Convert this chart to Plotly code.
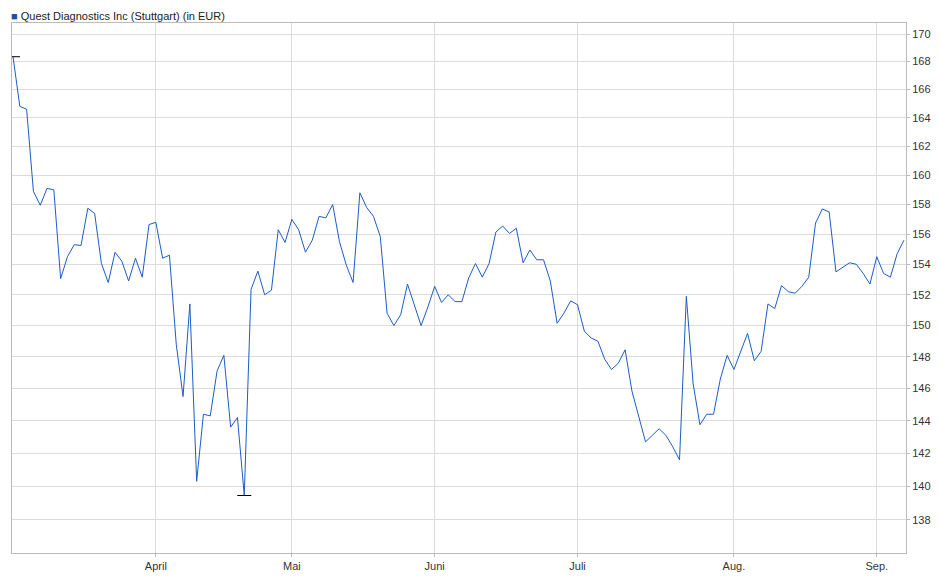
import plotly.graph_objects as go

kurse = [168.35, 164.8, 164.6, 158.9, 157.95, 159.1, 159.0, 153.05, 154.5, 155.3,
         155.25, 157.75, 157.4, 154.05, 152.8, 154.8, 154.2, 152.9, 154.4, 153.15,
         156.65, 156.8, 154.4, 154.6, 148.8, 145.5, 151.4, 140.3, 144.4, 144.3,
         147.1, 148.1, 143.6, 144.2, 139.45, 152.35, 153.55, 152.0, 152.3, 156.3,
         155.45, 157.0, 156.3, 154.8, 155.6, 157.2, 157.1, 158.0, 155.5, 153.95,
         152.8, 158.8, 157.8, 157.2, 155.85, 150.8, 150.0, 150.7, 152.7, 151.3,
         150.0, 151.2, 152.55, 151.5, 152.0, 151.55, 151.55, 153.1, 154.05, 153.15,
         154.05, 156.15, 156.55, 156.05, 156.4, 154.1, 154.95, 154.3, 154.3, 152.9,
         150.15, 150.8, 151.6, 151.35, 149.65, 149.2, 149.0, 147.85, 147.2, 147.6,
         148.45, 145.85, 144.2, 142.7, 143.1, 143.5, 143.1, 142.4, 141.6, 151.9,
         146.3, 143.75, 144.4, 144.4, 146.6, 148.1, 147.2, 148.35, 149.5, 147.75,
         148.35, 151.4, 151.1, 152.6, 152.2, 152.1, 152.55, 153.15, 156.75, 157.7,
         157.5, 153.5, 153.8, 154.1, 154.0, 153.4, 152.7, 154.5, 153.4, 153.15,
         154.7, 155.6]
tage = list(range(len(kurse)))

monat_pos = [21, 41, 62, 83, 106, 127]
monat_text = ["April", "Mai", "Juni", "Juli", "Aug.", "Sep."]
y_ticks = list(range(138, 171, 2))

i_max = kurse.index(max(kurse))
i_min = kurse.index(min(kurse))

def fmt(v):
    return f"{v:.2f}".replace(".", ",")

fig = go.Figure()
fig.add_trace(go.Scatter(x=tage, y=kurse, mode="lines",
                         line=dict(color="#1c5cc8", width=1), hoverinfo="y"))
fig.add_trace(go.Scatter(x=[tage[i_max], tage[i_min]], y=[kurse[i_max], kurse[i_min]],
                         mode="markers",
                         marker=dict(symbol="line-ew", size=10, color="black",
                                     line=dict(width=1, color="black"))))

fig.add_annotation(x=tage[i_max], y=kurse[i_max], yref="y", text=fmt(kurse[i_max]),
                   showarrow=False, xanchor="left", yanchor="bottom", yshift=1,
                   font=dict(size=11, color="#94a8c4"))
fig.add_annotation(x=tage[i_min], y=kurse[i_min], yref="y", text=fmt(kurse[i_min]),
                   showarrow=False, xanchor="center", yanchor="top", yshift=-2,
                   font=dict(size=11, color="#b49c88"))
fig.add_annotation(x=0, y=1, xref="paper", yref="paper", text="<span style='color:#1c4fa8'>■</span> Quest Diagnostics Inc (Stuttgart) (in EUR)",
                   showarrow=False, xanchor="left", yanchor="bottom", yshift=-1, xshift=-3,
                   font=dict(size=11, color="#222"))

fig.update_layout(
    width=940, height=579,
    margin=dict(l=4, r=42, t=15, b=34),
    paper_bgcolor="white", plot_bgcolor="white",
    showlegend=False,
    font=dict(family="Liberation Sans, Arial, sans-serif", size=11, color="#333"),
    xaxis=dict(range=[-0.15, 131.3], tickvals=monat_pos, ticktext=monat_text,
               showgrid=True, gridcolor="#dcdcdc", zeroline=False,
               showline=True, linecolor="#bbbbbb", mirror=True,
               ticks="outside", ticklen=3, tickcolor="#bbbbbb"),
    yaxis=dict(type="log", range=[2.1337, 2.2325], side="right",
               tickvals=y_ticks, ticktext=[str(v) for v in y_ticks],
               showgrid=True, gridcolor="#dcdcdc", zeroline=False,
               showline=True, linecolor="#bbbbbb", mirror=True,
               ticks="outside", ticklen=3, tickcolor="#bbbbbb"),
)

fig.write_html("out.html")
